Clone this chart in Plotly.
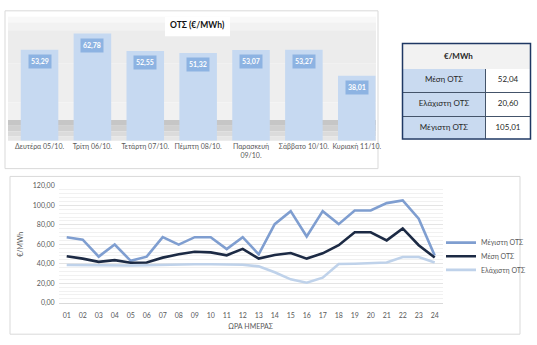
import plotly.graph_objects as go

W, H = 537, 345

# ---------------- data ----------------
days = ["Δευτέρα 05/10.", "Τρίτη 06/10.", "Τετάρτη 07/10.", "Πέμπτη 08/10.",
        "Παρασκευή<br>09/10.", "Σάββατο 10/10.", "Κυριακή 11/10."]
day_ots = [53.29, 62.78, 52.55, 51.32, 53.07, 53.27, 38.01]
day_labels = ["53,29", "62,78", "52,55", "51,32", "53,07", "53,27", "38,01"]

hours = ["01", "02", "03", "04", "05", "06", "07", "08", "09", "10", "11", "12",
         "13", "14", "15", "16", "17", "18", "19", "20", "21", "22", "23", "24"]
max_ots = [67.3, 64.7, 47.3, 59.7, 43.0, 47.3, 67.3, 59.7, 67.3, 67.3, 55.0, 67.3,
           49.7, 80.7, 94.0, 68.0, 94.0, 80.7, 94.7, 94.7, 102.3, 105.01, 86.3, 48.4]
mean_ots = [47.7, 45.3, 42.0, 43.7, 41.0, 41.3, 46.3, 49.7, 52.3, 51.7, 48.7, 55.3,
            45.3, 49.0, 51.0, 45.3, 50.7, 59.0, 72.3, 72.3, 64.0, 76.3, 59.0, 46.4]
min_ots = [38.8, 38.5, 38.3, 38.3, 38.3, 38.5, 39.0, 39.5, 39.5, 39.5, 39.2, 39.0,
           37.3, 31.3, 24.0, 20.6, 25.7, 39.7, 40.0, 40.7, 41.3, 47.0, 47.0, 41.4]

table_header = "€/MWh"
table_labels = ["Μέση ΟΤΣ", "Ελάχιστη ΟΤΣ", "Μέγιστη ΟΤΣ"]
table_values = ["52,04", "20,60", "105,01"]

FONT = "Lato"
GRAY = "#595959"


def px(x):
    return x / W


def py(y):
    return 1 - y / H


fig = go.Figure()

# ---------------- bar chart ----------------
fig.add_trace(go.Bar(
    x=days, y=day_ots, marker=dict(color="#c6d9f1", line=dict(width=0)),
    xaxis="x", yaxis="y", showlegend=False, hoverinfo="skip"))

for d, v, t in zip(days, day_ots, day_labels):
    fig.add_annotation(
        x=d, y=v, xref="x", yref="y", text="<b>" + t + "</b>", showarrow=False,
        xanchor="center", yanchor="top", yshift=-4, bgcolor="#8db3e2", borderpad=2,
        font=dict(family=FONT, size=7, color="white"))

# ---------------- line chart ----------------
fig.add_trace(go.Scatter(x=hours, y=max_ots, mode="lines", name="Μέγιστη ΟΤΣ",
                         line=dict(color="#7f9ed0", width=2.6),
                         xaxis="x2", yaxis="y2", legend="legend"))
fig.add_trace(go.Scatter(x=hours, y=mean_ots, mode="lines", name="Μέση ΟΤΣ",
                         line=dict(color="#1c2a44", width=2.6),
                         xaxis="x2", yaxis="y2", legend="legend2"))
fig.add_trace(go.Scatter(x=hours, y=min_ots, mode="lines", name="Ελάχιστη ΟΤΣ",
                         line=dict(color="#bfd2ea", width=2.6),
                         xaxis="x2", yaxis="y2", legend="legend3"))

# ---------------- table ----------------
hdr_fill = "#f2f2f2"
fig.add_trace(go.Table(
    domain=dict(x=[px(402.5), px(530.5)], y=[py(137.5), py(39.5)]),
    columnwidth=[83, 45],
    header=dict(values=["", ""], fill_color=hdr_fill,
                line=dict(color=hdr_fill, width=1), height=25,
                font=dict(family=FONT, size=8, color="#262626")),
    cells=dict(values=[table_labels, table_values],
               fill_color=[["#c9daf0"] * 3, ["white"] * 3],
               line=dict(color="#44546a", width=1), height=24,
               align="center",
               font=dict(family=FONT, size=8, color="#262626"))))

fig.add_annotation(x=px(458), y=py(52), xref="paper", yref="paper",
                   xanchor="center", yanchor="middle",
                   text="<b>" + table_header + "</b>", showarrow=False,
                   font=dict(family=FONT, size=8, color="#262626"))

# ---------------- decorations ----------------
shapes = []
# bar panel
shapes.append(dict(type="rect", xref="paper", yref="paper", layer="below",
                   x0=px(5), x1=px(378), y0=py(168), y1=py(6),
                   fillcolor="white", line=dict(color="#d9d9d9", width=1)))
bands = [(12, 18, "#f8f8f8"), (18, 26, "#f2f2f2"), (26, 60, "#ececec"),
         (60, 100, "#eeeeee"), (100, 118, "#f1f1f1"),
         (118, 124, "#c6c6c6"), (124, 130, "#d0d0d0"), (130, 135, "#dbdbdb"),
         (135, 139.3, "#e6e6e6")]
for y0, y1, c in bands:
    shapes.append(dict(type="rect", xref="paper", yref="paper", layer="below",
                       x0=px(8), x1=px(376), y0=py(y1), y1=py(y0),
                       fillcolor=c, line=dict(width=0)))
# title box
shapes.append(dict(type="rect", xref="paper", yref="paper", layer="below",
                   x0=px(165), x1=px(230), y0=py(32), y1=py(12),
                   fillcolor="white", line=dict(width=0)))
# line panel
shapes.append(dict(type="rect", xref="paper", yref="paper", layer="below",
                   x0=px(10), x1=px(520), y0=py(338), y1=py(176),
                   fillcolor="white", line=dict(color="#d9d9d9", width=1)))
# table outer border
shapes.append(dict(type="rect", xref="paper", yref="paper", layer="above",
                   x0=px(402.5), x1=px(530.5), y0=py(137.5), y1=py(39.5),
                   fillcolor="rgba(0,0,0,0)", line=dict(color="#1f3864", width=1.5)))

fig.add_annotation(x=px(197), y=py(21), xref="paper", yref="paper",
                   xanchor="center", yanchor="middle",
                   text="<b>ΟΤΣ (€/MWh)</b>", showarrow=False,
                   font=dict(family=FONT, size=8.5, color="#111111"))

legend_common = dict(xanchor="left", yanchor="middle", bgcolor="rgba(0,0,0,0)",
                     font=dict(family=FONT, size=7, color=GRAY), itemwidth=30)

fig.update_layout(
    width=W, height=H, margin=dict(l=0, r=0, t=0, b=0),
    paper_bgcolor="white", plot_bgcolor="rgba(0,0,0,0)",
    separators=",.",
    font=dict(family=FONT, size=7, color=GRAY),
    bargap=0.29,
    shapes=shapes,
    xaxis=dict(domain=[px(13.1), px(383.2)], range=[-0.5, 6.5],
               showgrid=False, showline=False, zeroline=False, ticks="",
               tickfont=dict(family=FONT, size=7, color=GRAY), fixedrange=True),
    yaxis=dict(domain=[py(139.3), py(15)], range=[0, 70.95], visible=False,
               fixedrange=True),
    xaxis2=dict(domain=[px(58.7), px(442.7)], range=[-0.5, 23.5], anchor="y2",
                showgrid=False, showline=True, linecolor="#d9d9d9", ticks="",
                zeroline=False, ticklabelstandoff=6,
                tickfont=dict(family=FONT, size=7, color=GRAY),
                title=dict(text="ΩΡΑ ΗΜΕΡΑΣ", standoff=5,
                           font=dict(family=FONT, size=7, color=GRAY))),
    yaxis2=dict(domain=[py(305.7), py(185.7)], range=[0, 120], anchor="x2",
                dtick=20, tickformat=".2f", showgrid=True, gridcolor="#e4e4e4",
                gridwidth=1, zeroline=False, showline=False, ticks="",
                ticklabelstandoff=3,
                minor=dict(dtick=4, showgrid=True, gridcolor="#f1f1f1", gridwidth=1),
                tickfont=dict(family=FONT, size=7, color=GRAY),
                title=dict(text="€/MWh", standoff=8,
                           font=dict(family=FONT, size=7, color=GRAY))),
    legend=dict(x=px(441), y=py(244), **legend_common),
    legend2=dict(x=px(441), y=py(258), **legend_common),
    legend3=dict(x=px(441), y=py(272), **legend_common),
)

fig.write_html("out.html")
